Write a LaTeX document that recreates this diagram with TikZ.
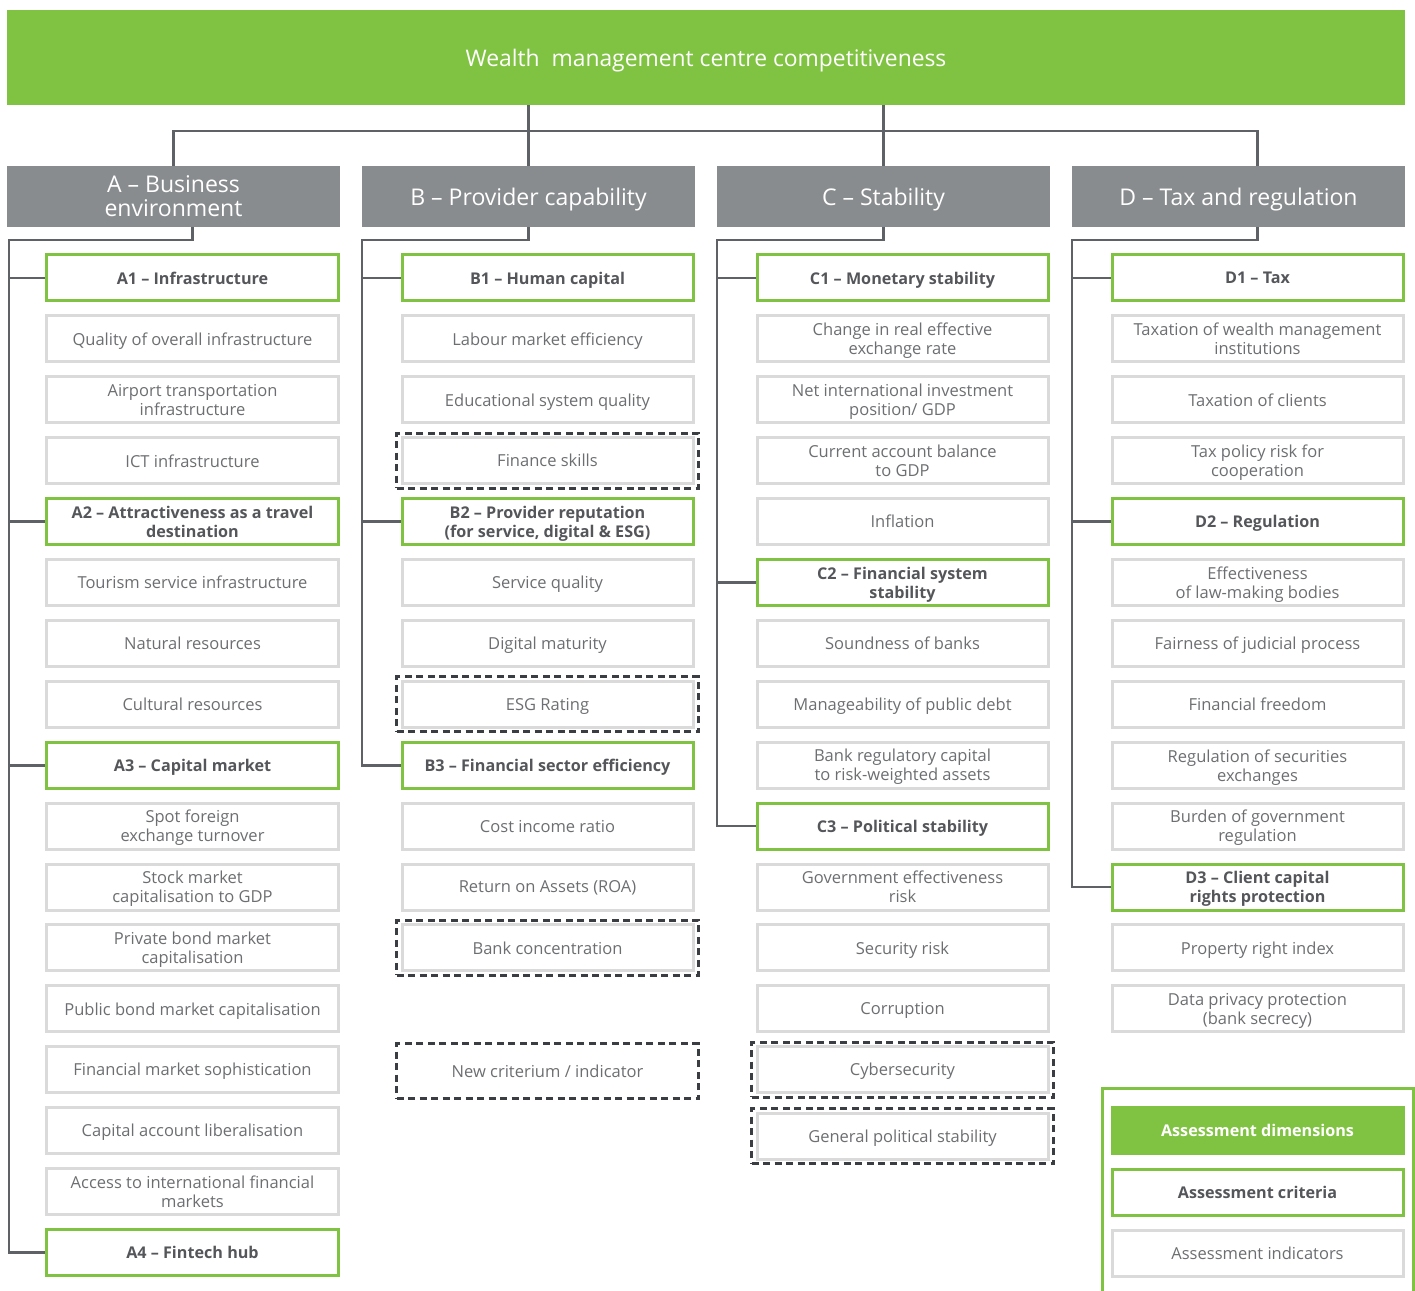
\documentclass[tikz,border=0pt]{standalone}
\usepackage{fontspec}
\setmainfont{Open Sans}
\usetikzlibrary{positioning}
\definecolor{wmgreen}{RGB}{128,195,66}
\definecolor{wmgray}{RGB}{137,140,143}
\definecolor{wmline}{RGB}{94,97,102}
\definecolor{wmlight}{RGB}{218,218,218}
\definecolor{wmtext}{RGB}{108,110,113}
\definecolor{wmdark}{RGB}{84,86,90}
\definecolor{wmdash}{RGB}{58,61,66}
\tikzset{
  link/.style={wmline, line width=0.55mm},
  cell/.style={minimum width=58.2mm, minimum height=9.2mm, line width=0.6mm,
               align=center, inner sep=0pt, text depth=0pt},
  ind/.style={cell, draw=wmlight, text=wmtext, font=\fontsize{9.4}{10.8}\selectfont},
  crit/.style={cell, draw=wmgreen, text=wmdark, font=\fontsize{9.2}{10.8}\selectfont\bfseries},
  dimhdr/.style={fill=wmgray, text=white, minimum width=66.6mm, minimum height=12.2mm,
                 align=center, inner sep=0pt, text depth=0pt,
                 font=\fontsize{13.1}{13.7}\selectfont},
  newbox/.style={draw=wmdash, dash pattern=on 1.4mm off 0.9mm, line width=0.6mm,
                 minimum width=60.4mm, minimum height=11mm, inner sep=0pt, text depth=0pt,
                 text=wmtext, font=\fontsize{9.4}{10.8}\selectfont},
}

\begin{document}
\begin{tikzpicture}[x=0.2mm, y=-0.2mm]
  \useasboundingbox (0,0) rectangle (1415,1291);

  % top bar and the four dimensions
  \node[fill=wmgreen, text=white, minimum width=279.6mm, minimum height=19mm, inner sep=0pt,
        text depth=0pt, font=\fontsize{13}{14}\selectfont] (top) at (706,57.5)
        {Wealth\ \ management centre competitiveness};
  \foreach \c/\x/\t in {A/173.5/{A -- Business\\environment}, B/528.5/{B -- Provider capability},
                         C/883.5/{C -- Stability}, D/1238.5/{D -- Tax and regulation}}
    \node[dimhdr] (h\c) at (\x,196.5) {\t};

  % --- A: business environment
  \foreach \r/\t in {0/{A1 -- Infrastructure}, 4/{A2 -- Attractiveness as a travel\\destination},
                     8/{A3 -- Capital market}, 16/{A4 -- Fintech hub}}
    \node[crit] (a\r) at (192.5,{278+60.9*\r}) {\t};
  \foreach \r/\t in {1/{Quality of overall infrastructure}, 2/{Airport transportation\\infrastructure},
                     3/{ICT infrastructure}, 5/{Tourism service infrastructure},
                     6/{Natural resources}, 7/{Cultural resources},
                     9/{Spot foreign\\exchange turnover}, 10/{Stock market\\capitalisation to GDP},
                     11/{Private bond market\\capitalisation}, 12/{Public bond market capitalisation},
                     13/{Financial market sophistication}, 14/{Capital account liberalisation},
                     15/{Access to international financial\\markets}}
    \node[ind] (a\r) at (192.5,{278+60.9*\r}) {\t};

  % --- B: provider capability
  \foreach \r/\t in {0/{B1 -- Human capital}, 4/{B2 -- Provider reputation\\(for service, digital \& ESG)},
                     8/{B3 -- Financial sector efficiency}}
    \node[crit] (b\r) at (547.5,{278+60.9*\r}) {\t};
  \foreach \r/\t in {1/{Labour market efficiency}, 2/{Educational system quality}, 3/{Finance skills},
                     5/{Service quality}, 6/{Digital maturity}, 7/{ESG Rating},
                     9/{Cost income ratio}, 10/{Return on Assets (ROA)}, 11/{Bank concentration}}
    \node[ind] (b\r) at (547.5,{278+60.9*\r}) {\t};
  \foreach \r in {3,7,11}
    \node[newbox] (bn\r) at (b\r) {};
  \node[newbox] (b13) at (547.5,1071) {New criterium / indicator};

  % --- C: stability
  \foreach \r/\t in {0/{C1 -- Monetary stability}, 5/{C2 -- Financial system\\stability},
                     9/{C3 -- Political stability}}
    \node[crit] (c\r) at (902.5,{278+60.9*\r}) {\t};
  \foreach \r/\t in {1/{Change in real effective\\exchange rate}, 2/{Net international investment\\position/ GDP},
                     3/{Current account balance\\to GDP}, 4/{Inflation},
                     6/{Soundness of banks}, 7/{Manageability of public debt},
                     8/{Bank regulatory capital\\to risk-weighted assets},
                     10/{Government effectiveness\\risk}, 11/{Security risk}, 12/{Corruption},
                     13/{Cybersecurity}}
    \node[ind] (c\r) at (902.5,{278+60.9*\r}) {\t};
  \node[ind] (c14) at (902.5,1136) {General political stability};
  \foreach \r in {13,14}
    \node[newbox] (cn\r) at (c\r) {};

  % --- D: tax and regulation
  \foreach \r/\t in {0/{D1 -- Tax}, 4/{D2 -- Regulation}, 10/{D3 -- Client capital\\rights protection}}
    \node[crit] (d\r) at (1257.5,{278+60.9*\r}) {\t};
  \foreach \r/\t in {1/{Taxation of wealth management\\institutions}, 2/{Taxation of clients},
                     3/{Tax policy risk for\\cooperation}, 5/{Effectiveness\\of law-making bodies},
                     6/{Fairness of judicial process}, 7/{Financial freedom},
                     8/{Regulation of securities\\exchanges}, 9/{Burden of government\\regulation},
                     11/{Property right index}, 12/{Data privacy protection\\(bank secrecy)}}
    \node[ind] (d\r) at (1257.5,{278+60.9*\r}) {\t};

  % tree lines
  \coordinate (bus) at (0,131);
  \draw[link] (top.south -| hB) -- (hB.north);
  \draw[link] (top.south -| hC) -- (hC.north);
  \draw[link] (hA.north) |- (bus -| d0) -- (hD.north -| d0);

  \coordinate (spA) at (9,240);
  \coordinate (spB) at (362,240);
  \coordinate (spC) at (717,240);
  \coordinate (spD) at (1072,240);
  \draw[link] (hA.south -| a0) |- (spA) |- (a16.west);
  \foreach \r in {0,4,8}
    \draw[link] (spA |- a\r) -- (a\r.west);
  \draw[link] (hB.south) |- (spB) |- (b8.west);
  \foreach \r in {0,4}
    \draw[link] (spB |- b\r) -- (b\r.west);
  \draw[link] (hC.south) |- (spC) |- (c9.west);
  \foreach \r in {0,5}
    \draw[link] (spC |- c\r) -- (c\r.west);
  \draw[link] (hD.south -| d0) |- (spD) |- (d10.west);
  \foreach \r in {0,4}
    \draw[link] (spD |- d\r) -- (d\r.west);

  % legend
  \draw[wmgreen, line width=0.6mm] (1102,1300) |- (1413,1088) -- (1413,1300);
  \node[crit, fill=wmgreen, text=white] (lg1) at (1257.5,1130) {Assessment dimensions};
  \node[crit] (lg2) at (1257.5,1192) {Assessment criteria};
  \node[ind] (lg3) at (1257.5,1253) {Assessment indicators};
\end{tikzpicture}
\end{document}
